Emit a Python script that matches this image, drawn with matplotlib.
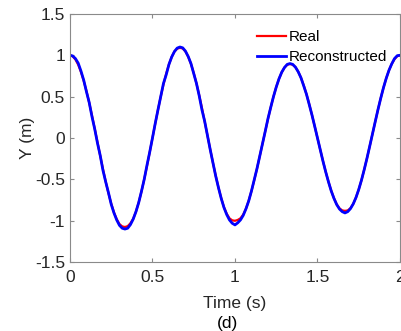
import matplotlib.pyplot as plt
import numpy as np

plt.rcParams['font.family'] = ['Liberation Sans', 'DejaVu Sans']

# samples every 1/60 s
time = np.arange(121) / 60.0

real = [1.0, 0.987, 0.949, 0.886, 0.799, 0.692, 0.567, 0.427, 0.274, 0.114,
        -0.05, -0.214, -0.374, -0.527, -0.667, -0.792, -0.899, -0.980, -1.040, -1.068,
        -1.075, -1.065, -1.030, -0.975, -0.890, -0.778, -0.647, -0.499, -0.340, -0.172,
        0.0, 0.172, 0.340, 0.499, 0.647, 0.778, 0.890, 0.980, 1.046, 1.080,
        1.090, 1.082, 1.046, 0.983, 0.896, 0.786, 0.659, 0.516, 0.361, 0.197,
        0.03, -0.137, -0.301, -0.456, -0.599, -0.726, -0.836, -0.915, -0.970, -0.995,
        -1.0, -0.990, -0.970, -0.925, -0.855, -0.756, -0.640, -0.510, -0.370, -0.221,
        -0.07, 0.081, 0.230, 0.370, 0.500, 0.616, 0.715, 0.794, 0.852, 0.885,
        0.895, 0.886, 0.856, 0.802, 0.728, 0.636, 0.529, 0.409, 0.278, 0.140,
        0.0, -0.140, -0.278, -0.409, -0.529, -0.636, -0.728, -0.802, -0.850, -0.875,
        -0.880, -0.875, -0.848, -0.796, -0.719, -0.622, -0.509, -0.381, -0.244, -0.098,
        0.05, 0.198, 0.344, 0.481, 0.609, 0.722, 0.819, 0.896, 0.953, 0.989,
        1.0]

recon = [1.0, 0.992, 0.960, 0.905, 0.810, 0.700, 0.560, 0.430, 0.260, 0.110,
         -0.06, -0.210, -0.390, -0.530, -0.660, -0.800, -0.905, -0.990, -1.055, -1.090,
         -1.100, -1.090, -1.046, -0.980, -0.890, -0.780, -0.645, -0.500, -0.330, -0.170,
         0.0, 0.175, 0.340, 0.500, 0.660, 0.765, 0.890, 0.980, 1.046, 1.087,
         1.100, 1.090, 1.050, 0.985, 0.900, 0.780, 0.660, 0.510, 0.340, 0.200,
         0.03, -0.140, -0.300, -0.460, -0.600, -0.730, -0.840, -0.925, -0.990, -1.030,
         -1.050, -1.025, -0.990, -0.935, -0.855, -0.760, -0.640, -0.505, -0.370, -0.220,
         -0.07, 0.080, 0.235, 0.370, 0.500, 0.615, 0.715, 0.795, 0.852, 0.890,
         0.900, 0.890, 0.856, 0.800, 0.728, 0.630, 0.529, 0.405, 0.278, 0.140,
         0.0, -0.140, -0.280, -0.410, -0.530, -0.640, -0.730, -0.805, -0.858, -0.890,
         -0.905, -0.890, -0.853, -0.796, -0.719, -0.622, -0.509, -0.381, -0.244, -0.098,
         0.05, 0.198, 0.344, 0.481, 0.609, 0.722, 0.819, 0.896, 0.960, 0.995,
         1.0]

fig = plt.figure(figsize=(4.02, 3.31), dpi=100)
ax = fig.add_axes([0.174, 0.208, 0.821, 0.75])

ax.plot(time, real, color='red', lw=1.6, label='Real')
ax.plot(time, recon, color='blue', lw=2.0, label='Reconstructed')

ax.set_xlim(0, 2)
ax.set_ylim(-1.5, 1.5)
ax.set_xticks([0, 0.5, 1, 1.5, 2])
ax.set_xticklabels(['0', '0.5', '1', '1.5', '2'])
ax.set_yticks([-1.5, -1, -0.5, 0, 0.5, 1, 1.5])
ax.set_yticklabels(['-1.5', '-1', '-0.5', '0', '0.5', '1', '1.5'])

for s in ax.spines.values():
    s.set_color('#8a8a8a')
    s.set_linewidth(0.8)
ax.tick_params(direction='in', length=3, color='#8a8a8a', labelcolor='#262626',
               labelsize=12.5, top=True, right=True)
ax.tick_params(axis='x', pad=6)
ax.tick_params(axis='y', pad=3.5)

ax.set_xlabel('Time (s)', fontsize=12.5, color='#262626', labelpad=7.5)
ax.set_ylabel('Y (m)', fontsize=12.5, color='#262626', labelpad=0)
fig.text(0.565, 0.024, '(d)', fontsize=12.5, ha='center', va='center')

ax.legend(loc='upper right', frameon=False, fontsize=11, handlelength=1.9,
          handletextpad=0.15, labelspacing=0.4, borderaxespad=0.3,
          bbox_to_anchor=(0.992, 0.978))

fig.savefig('out.png', dpi=100)
